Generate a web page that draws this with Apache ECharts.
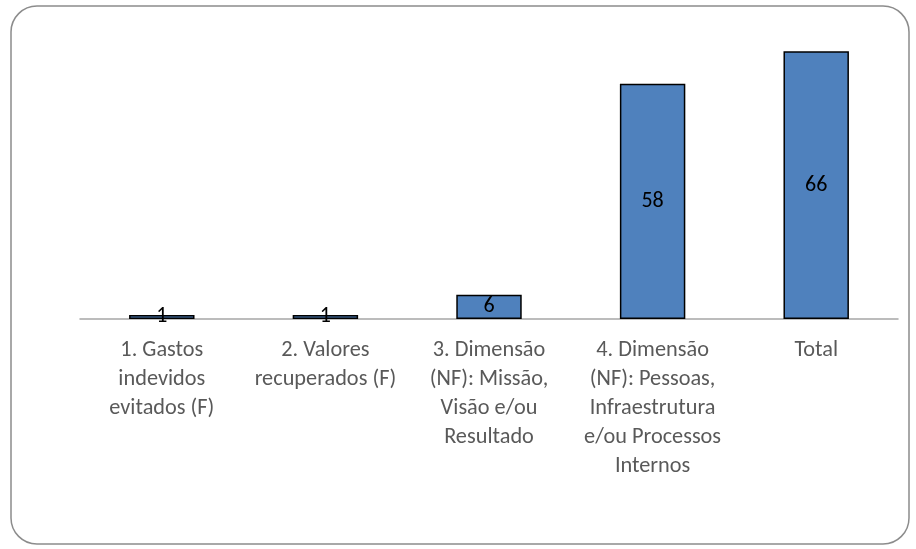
<!DOCTYPE html>
<html><head><meta charset="utf-8">
<script src="https://cdn.jsdelivr.net/npm/echarts@6/dist/echarts.min.js"></script>
<style>html,body{margin:0;padding:0;background:#fff}#c{width:916px;height:549px}</style>
</head><body><div id="c"></div>
<script>
const categories = [
  "1. Gastos\nindevidos\nevitados (F)",
  "2. Valores\nrecuperados (F)",
  "3. Dimensão\n(NF): Missão,\nVisão e/ou\nResultado",
  "4. Dimensão\n(NF): Pessoas,\nInfraestrutura\ne/ou Processos\nInternos",
  "Total"
];
const values = [1, 1, 6, 58, 66];

const chart = echarts.init(document.getElementById('c'), null, {renderer: 'canvas'});
chart.setOption({
  animation: false,
  backgroundColor: '#fff',
  graphic: [{
    type: 'rect',
    shape: {x: 11, y: 6, width: 898, height: 538, r: 26},
    style: {fill: 'none', stroke: '#8c8c8c', lineWidth: 1.5},
    z: -1
  }],
  grid: {left: 80, right: 18, top: 35, bottom: 230},
  xAxis: {
    type: 'category',
    data: categories,
    axisLine: {show: true, lineStyle: {color: '#a6a6a6', width: 1.5}},
    axisTick: {show: false},
    axisLabel: {
      interval: 0, color: '#595959', fontSize: 22.3, lineHeight: 29,
      fontFamily: 'Carlito, "Open Sans", "Liberation Sans", sans-serif',
      margin: 17
    }
  },
  yAxis: {
    type: 'value', min: 0, max: 70,
    show: false,
    splitLine: {show: false}
  },
  series: [{
    type: 'bar',
    data: values,
    barWidth: '40%',
    itemStyle: {color: '#4f81bd', borderColor: '#000', borderWidth: 1.5},
    label: {
      show: true, position: 'inside', color: '#000', fontSize: 22,
      fontFamily: 'Carlito, "Open Sans", "Liberation Sans", sans-serif'
    }
  }]
});
</script></body></html>
